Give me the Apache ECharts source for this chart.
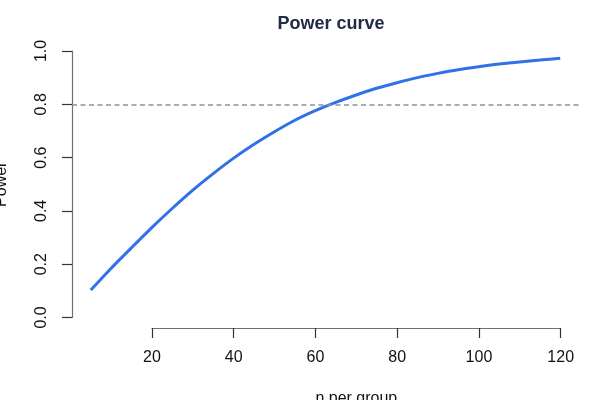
<!DOCTYPE html>
<html>
<head>
<meta charset="utf-8">
<script src="https://cdn.jsdelivr.net/npm/echarts@6/dist/echarts.min.js"></script>
<style>
  html, body { margin: 0; padding: 0; background: #fff; }
  #chart { width: 600px; height: 400px; }
</style>
</head>
<body>
<div id="chart"></div>
<script>
// sample size per group and the power
const nPerGroup = [5, 10, 15, 20, 25, 30, 35, 40, 45, 50, 55, 60,
  65, 70, 75, 80, 85, 90, 95, 100, 105, 110, 115, 120];
const power = [0.103, 0.185, 0.262, 0.338, 0.41, 0.478, 0.54, 0.598, 0.65, 0.697, 0.74, 0.776,
  0.807, 0.835, 0.86, 0.881, 0.9, 0.916, 0.93, 0.941, 0.951, 0.959, 0.966, 0.973];
const target = 0.8;
const xTicks = [20, 40, 60, 80, 100, 120];
const yTicks = [0, 0.2, 0.4, 0.6, 0.8, 1.0];

const font = "Liberation Sans, Arial, sans-serif";
const axisGrey = "#707070";

const chart = echarts.init(document.getElementById("chart"));

chart.setOption({
  animation: false,
  title: {
    text: "Power curve",
    left: 326,
    top: 10,
    textAlign: "center",
    textStyle: { fontFamily: font, fontSize: 18, fontWeight: "bold", color: "#222b45" }
  },
  grid: [
    // data area, y runs 0..1 exactly, x padded like base R
    { left: 72, right: 21, top: 51, bottom: 82.5, outerBoundsMode: "none", containLabel: false },
    // bottom axis only spans the ticks
    { left: 152, right: 39.3, top: 40, bottom: 72, outerBoundsMode: "none", containLabel: false }
  ],
  xAxis: [
    {
      gridIndex: 0, type: "value", min: 0.4, max: 124.6, show: false
    },
    {
      gridIndex: 1, type: "value",
      min: xTicks[0], max: xTicks[xTicks.length - 1], interval: 20,
      name: "n per group", nameLocation: "middle", nameGap: 63,
      nameTextStyle: { fontFamily: font, fontSize: 16, color: "#111" },
      axisLine: { show: true, lineStyle: { color: axisGrey, width: 1.2 } },
      axisTick: { show: true, inside: false, length: 10, lineStyle: { color: "#333", width: 1.2 } },
      axisLabel: {
        margin: 22, fontFamily: font, fontSize: 16, color: "#111",
        showMinLabel: true, showMaxLabel: true
      },
      splitLine: { show: false }
    }
  ],
  yAxis: [
    {
      gridIndex: 0, type: "value",
      min: yTicks[0], max: yTicks[yTicks.length - 1], interval: 0.2,
      name: "Power", nameLocation: "middle", nameGap: 62,
      nameTextStyle: { fontFamily: font, fontSize: 16, color: "#111" },
      axisLine: { show: true, lineStyle: { color: axisGrey, width: 1.2 } },
      axisTick: { show: true, inside: false, length: 10, lineStyle: { color: "#333", width: 1.2 } },
      axisLabel: {
        rotate: 90, margin: 22, fontFamily: font, fontSize: 16, color: "#111",
        formatter: (v) => v.toFixed(1)
      },
      splitLine: { show: false }
    },
    {
      gridIndex: 1, type: "value", min: 0, max: 1, show: false
    }
  ],
  series: [
    {
      type: "line",
      xAxisIndex: 0,
      yAxisIndex: 0,
      data: nPerGroup.map((n, i) => [n, power[i]]),
      showSymbol: false,
      smooth: 0.2,
      clip: false,
      lineStyle: { color: "#3070e8", width: 3 },
      markLine: {
        silent: true,
        symbol: "none",
        label: { show: false },
        lineStyle: { color: "#8a8fa3", type: [5, 3.5], width: 1.5 },
        data: [{ yAxis: target }]
      }
    }
  ]
});
</script>
</body>
</html>
